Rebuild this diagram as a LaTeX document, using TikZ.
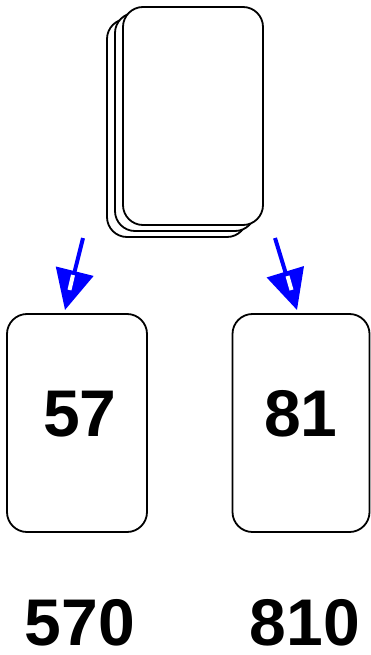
\documentclass[tikz,border=0pt]{standalone}
\usepackage{fontspec}
\setmainfont{Liberation Sans}
\usetikzlibrary{positioning}
\usetikzlibrary{arrows.meta}
\tikzset{
    card/.style={
      rectangle,
      fill=white,
      rounded corners=20pt,
      minimum width=140pt,
      minimum height=218pt,
      draw=black,
      line width=1.8pt,
      inner sep=0pt
    },
    cardnum/.style={
      inner sep=0pt,
      font=\fontsize{66}{66}\selectfont\bfseries
    },
    pick/.style={
      draw=blue,
      line width=4pt,
      -{Triangle[length=40pt,width=38pt]}
    },
    glint/.style={
      draw=white,
      line width=4pt
    },
}

\begin{document}
\begin{tikzpicture}[x=1pt,y=-1pt]
    \useasboundingbox (0,0) rectangle (371,655);

    % the pack
    \node[card] at (177,128) (pack3) {};
    \node[card] at (185,122) (pack2) {};
    \node[card] at (193,116) (pack1) {};

    % the two cards drawn
    \node[card] at (77,423) (left) {};
    \node[card,minimum width=137pt] at (301,423) (right) {};
    \node[cardnum] at (80,414) (leftnum) {57};
    \node[cardnum] at (301,414) (rightnum) {81};

    \coordinate (ltail) at (83,238);
    \coordinate (ltip) at (65,310);
    \coordinate (rtail) at (275,238);
    \coordinate (rtip) at (297,310);
    \draw[pick] (ltail) -- (ltip);
    \draw[pick] (rtail) -- (rtip);
    \draw[glint] (73,275) -- (69.5,290);
    \draw[glint] (287.5,276) -- (291.5,290);

    \node[cardnum] at (80,623) (lefttimes) {570};
    \node[cardnum] at (305,623) (righttimes) {810};

\end{tikzpicture}
\end{document}
